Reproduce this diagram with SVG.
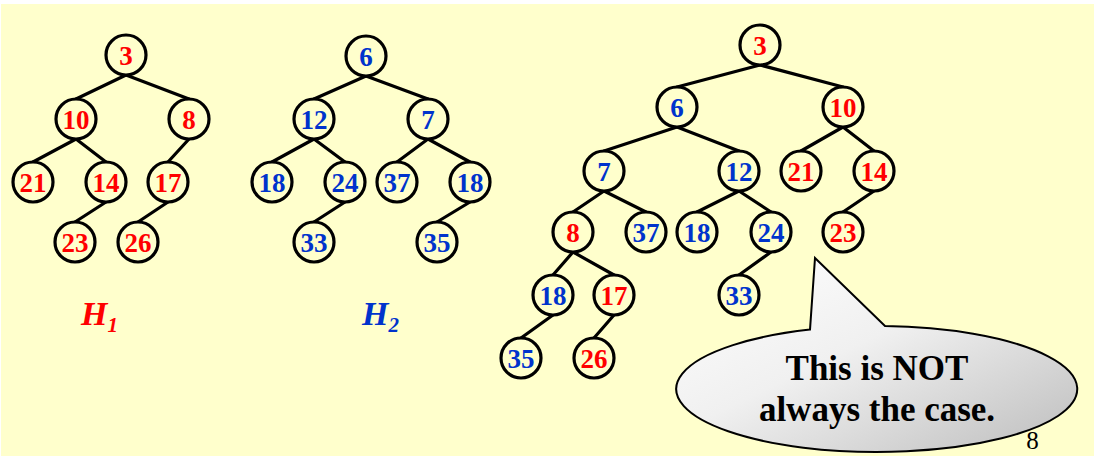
<svg xmlns="http://www.w3.org/2000/svg" width="1094" height="458" viewBox="0 0 1094 458">
<defs>
<linearGradient id="bub" x1="0" y1="0" x2="1" y2="1">
<stop offset="0" stop-color="#ffffff"/>
<stop offset="0.45" stop-color="#f0f0f0"/>
<stop offset="1" stop-color="#bdbdbd"/>
</linearGradient>
</defs>
<style>
.n circle{fill:#FFFFCC;stroke:#000;stroke-width:3.2}
.n text{font-family:"Liberation Serif","Times New Roman",serif;font-weight:bold;font-size:27px;text-anchor:middle}
.r text{fill:#FF0000}
.b text{fill:#0033CC}
#edges line{stroke:#000;stroke-width:3.2;stroke-linecap:round}
.lbl{font-family:"Liberation Serif","Times New Roman",serif;font-weight:bold;font-style:italic}
</style>
<rect x="0" y="0" width="1094" height="458" fill="#ffffff"/>
<rect x="1" y="4" width="1093" height="452" fill="#FFFFCC"/>
<g id="edges">
<line x1="126" y1="75" x2="76" y2="99"/>
<line x1="126" y1="75" x2="189" y2="99"/>
<line x1="76" y1="139" x2="33" y2="162"/>
<line x1="76" y1="139" x2="106" y2="162"/>
<line x1="189" y1="139" x2="168" y2="162"/>
<line x1="106" y1="202" x2="75" y2="222"/>
<line x1="168" y1="202" x2="138" y2="222"/>
<line x1="366" y1="76" x2="314" y2="99"/>
<line x1="366" y1="76" x2="428" y2="99"/>
<line x1="314" y1="139" x2="272" y2="162"/>
<line x1="314" y1="139" x2="345" y2="162"/>
<line x1="428" y1="139" x2="397" y2="162"/>
<line x1="428" y1="139" x2="470" y2="162"/>
<line x1="345" y1="202" x2="314" y2="222"/>
<line x1="470" y1="202" x2="437" y2="222"/>
<line x1="760" y1="65" x2="677" y2="87"/>
<line x1="760" y1="65" x2="843" y2="87"/>
<line x1="677" y1="127" x2="604" y2="151"/>
<line x1="677" y1="127" x2="739" y2="151"/>
<line x1="843" y1="127" x2="801" y2="151"/>
<line x1="843" y1="127" x2="874" y2="151"/>
<line x1="604" y1="191" x2="573" y2="212"/>
<line x1="604" y1="191" x2="646" y2="212"/>
<line x1="739" y1="191" x2="697" y2="212"/>
<line x1="739" y1="191" x2="771" y2="212"/>
<line x1="874" y1="191" x2="843" y2="212"/>
<line x1="573" y1="252" x2="553" y2="275"/>
<line x1="573" y1="252" x2="614" y2="275"/>
<line x1="771" y1="252" x2="739" y2="275"/>
<line x1="553" y1="315" x2="521" y2="338"/>
<line x1="614" y1="315" x2="594" y2="338"/>
</g>
<g id="h1-3" class="n r"><circle cx="126" cy="55" r="20"/><text x="126" y="64.5">3</text></g>
<g id="h1-10" class="n r"><circle cx="76" cy="119" r="20"/><text x="76" y="128.5">10</text></g>
<g id="h1-8" class="n r"><circle cx="189" cy="119" r="20"/><text x="189" y="128.5">8</text></g>
<g id="h1-21" class="n r"><circle cx="33" cy="182" r="20"/><text x="33" y="191.5">21</text></g>
<g id="h1-14" class="n r"><circle cx="106" cy="182" r="20"/><text x="106" y="191.5">14</text></g>
<g id="h1-17" class="n r"><circle cx="168" cy="182" r="20"/><text x="168" y="191.5">17</text></g>
<g id="h1-23" class="n r"><circle cx="75" cy="242" r="20"/><text x="75" y="251.5">23</text></g>
<g id="h1-26" class="n r"><circle cx="138" cy="242" r="20"/><text x="138" y="251.5">26</text></g>
<g id="h2-6" class="n b"><circle cx="366" cy="56" r="20"/><text x="366" y="65.5">6</text></g>
<g id="h2-12" class="n b"><circle cx="314" cy="119" r="20"/><text x="314" y="128.5">12</text></g>
<g id="h2-7" class="n b"><circle cx="428" cy="119" r="20"/><text x="428" y="128.5">7</text></g>
<g id="h2-18a" class="n b"><circle cx="272" cy="182" r="20"/><text x="272" y="191.5">18</text></g>
<g id="h2-24" class="n b"><circle cx="345" cy="182" r="20"/><text x="345" y="191.5">24</text></g>
<g id="h2-37" class="n b"><circle cx="397" cy="182" r="20"/><text x="397" y="191.5">37</text></g>
<g id="h2-18b" class="n b"><circle cx="470" cy="182" r="20"/><text x="470" y="191.5">18</text></g>
<g id="h2-33" class="n b"><circle cx="314" cy="242" r="20"/><text x="314" y="251.5">33</text></g>
<g id="h2-35" class="n b"><circle cx="437" cy="242" r="20"/><text x="437" y="251.5">35</text></g>
<g id="m-3" class="n r"><circle cx="760" cy="45" r="20"/><text x="760" y="54.5">3</text></g>
<g id="m-6" class="n b"><circle cx="677" cy="107" r="20"/><text x="677" y="116.5">6</text></g>
<g id="m-10" class="n r"><circle cx="843" cy="107" r="20"/><text x="843" y="116.5">10</text></g>
<g id="m-7" class="n b"><circle cx="604" cy="171" r="20"/><text x="604" y="180.5">7</text></g>
<g id="m-12" class="n b"><circle cx="739" cy="171" r="20"/><text x="739" y="180.5">12</text></g>
<g id="m-21" class="n r"><circle cx="801" cy="171" r="20"/><text x="801" y="180.5">21</text></g>
<g id="m-14" class="n r"><circle cx="874" cy="171" r="20"/><text x="874" y="180.5">14</text></g>
<g id="m-8" class="n r"><circle cx="573" cy="232" r="20"/><text x="573" y="241.5">8</text></g>
<g id="m-37" class="n b"><circle cx="646" cy="232" r="20"/><text x="646" y="241.5">37</text></g>
<g id="m-18a" class="n b"><circle cx="697" cy="232" r="20"/><text x="697" y="241.5">18</text></g>
<g id="m-24" class="n b"><circle cx="771" cy="232" r="20"/><text x="771" y="241.5">24</text></g>
<g id="m-23" class="n r"><circle cx="843" cy="232" r="20"/><text x="843" y="241.5">23</text></g>
<g id="m-18b" class="n b"><circle cx="553" cy="295" r="20"/><text x="553" y="304.5">18</text></g>
<g id="m-17" class="n r"><circle cx="614" cy="295" r="20"/><text x="614" y="304.5">17</text></g>
<g id="m-33" class="n b"><circle cx="739" cy="295" r="20"/><text x="739" y="304.5">33</text></g>
<g id="m-35" class="n b"><circle cx="521" cy="358" r="20"/><text x="521" y="367.5">35</text></g>
<g id="m-26" class="n r"><circle cx="594" cy="358" r="20"/><text x="594" y="367.5">26</text></g>
<g id="label-h1"><text class="lbl" x="81" y="325" font-size="34" fill="#FF0000">H<tspan font-size="21" dy="7">1</tspan></text></g>
<g id="label-h2"><text class="lbl" x="362" y="325" font-size="34" fill="#0033CC">H<tspan font-size="21" dy="7">2</tspan></text></g>
<g id="callout">
<path d="M810 329.6 L815 258 L885 326.06 A200.5 63 0 1 1 810 329.6 Z" fill="url(#bub)" stroke="#000" stroke-width="2" stroke-linejoin="miter"/>
<text x="877" y="380" font-family="'Liberation Serif','Times New Roman',serif" font-weight="bold" font-size="35" text-anchor="middle" fill="#000">This is NOT</text>
<text x="877" y="421" font-family="'Liberation Serif','Times New Roman',serif" font-weight="bold" font-size="35" text-anchor="middle" fill="#000">always the case.</text>
</g>
<text id="page" x="1032.5" y="449" font-family="'Liberation Serif','Times New Roman',serif" font-size="25" text-anchor="middle" fill="#000">8</text>
</svg>
